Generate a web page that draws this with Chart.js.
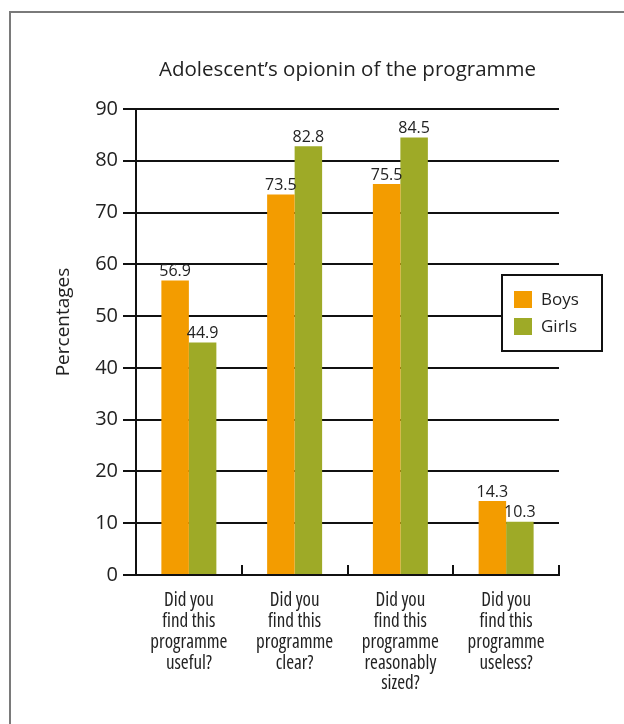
<!DOCTYPE html>
<html>
<head>
<meta charset="utf-8">
<script src="https://cdn.jsdelivr.net/npm/chart.js@4/dist/chart.umd.min.js"></script>
<style>
  html, body { margin: 0; padding: 0; background: #fff; overflow: hidden; }
  #wrap { position: relative; width: 624px; height: 724px; overflow: hidden; }
  #frame { position: absolute; left: 9px; top: 11px; width: 640px; height: 760px;
           border: 2px solid #7a7a7a; box-sizing: border-box; }
  canvas { position: absolute; left: 0; top: 0; }
</style>
</head>
<body>
<div id="wrap">
  <div id="frame"></div>
  <canvas id="c" width="624" height="724"></canvas>
</div>
<script>
// Survey questions (x categories), one line per array entry
const categories = [
  ["Did you", "find this", "programme", "useful?"],
  ["Did you", "find this", "programme", "clear?"],
  ["Did you", "find this", "programme", "reasonably", "sized?"],
  ["Did you", "find this", "programme", "useless?"]
];
// Percentage answering yes
const boys  = [56.9, 73.5, 75.5, 14.3];
const girls = [44.9, 82.8, 84.5, 10.3];
const seriesNames = ["Boys", "Girls"];
// Y axis range
const yMin = 0, yMax = 90, yStep = 10;

const FAMILY = "'Open Sans', sans-serif";
// font shorthand with a width keyword (the face has a condensed cut)
const font = (stretch, px) => stretch + " " + px + "px " + FAMILY;
const INK = "#222";
const LINE = "#111";

const decor = {
  id: "decor",
  afterDatasetsDraw(chart) {
    const ctx = chart.ctx;
    const xs = chart.scales.x;
    const area = chart.chartArea;
    ctx.save();
    // short tick marks at the category boundaries, pointing up from the axis
    ctx.strokeStyle = LINE;
    ctx.lineWidth = 2;
    for (let i = 0; i <= categories.length; i++) {
      const x = Math.round(xs.getPixelForValue(i - 0.5));
      ctx.beginPath();
      ctx.moveTo(x, area.bottom);
      ctx.lineTo(x, area.bottom - 10);
      ctx.stroke();
    }
    // value labels above every bar
    ctx.fillStyle = INK;
    ctx.font = font("normal", 16);
    ctx.textAlign = "center";
    ctx.textBaseline = "bottom";
    chart.data.datasets.forEach((ds, i) => {
      chart.getDatasetMeta(i).data.forEach((bar, j) => {
        ctx.fillText(ds.data[j].toFixed(1), bar.x, bar.y - 1);
      });
    });
    ctx.restore();
  },
  afterDraw(chart) {
    const ctx = chart.ctx;
    const area = chart.chartArea;
    ctx.save();
    ctx.fillStyle = INK;
    // chart title, centred over the plot
    ctx.font = font("normal", 20.5);
    ctx.textAlign = "center";
    ctx.textBaseline = "alphabetic";
    ctx.fillText("Adolescent\u2019s opionin of the programme", (area.left + area.right) / 2, 76);
    // y axis title
    ctx.save();
    ctx.font = font("normal", 19);
    ctx.translate(64, 322);
    ctx.rotate(-Math.PI / 2);
    ctx.textBaseline = "middle";
    ctx.fillText("Percentages", 0, 0);
    ctx.restore();
    // boxed legend
    const bx = 502, by = 275, bw = 100, bh = 76;
    ctx.fillStyle = "#fff";
    ctx.fillRect(bx, by, bw, bh);
    ctx.strokeStyle = LINE;
    ctx.lineWidth = 2;
    ctx.strokeRect(bx, by, bw, bh);
    ctx.font = font("normal", 17);
    ctx.textAlign = "left";
    ctx.textBaseline = "middle";
    chart.data.datasets.forEach((ds, i) => {
      const y = by + 16 + i * 27;
      ctx.fillStyle = ds.backgroundColor;
      ctx.fillRect(bx + 12, y, 18, 17);
      ctx.fillStyle = INK;
      ctx.fillText(ds.label, bx + 39, y + 9);
    });
    ctx.restore();
  }
};

new Chart(document.getElementById("c"), {
  type: "bar",
  data: {
    labels: categories,
    datasets: [
      { label: seriesNames[0], data: boys,  backgroundColor: "#F39C00",
        categoryPercentage: 0.52, barPercentage: 1.0, borderWidth: 0 },
      { label: seriesNames[1], data: girls, backgroundColor: "#9EAA27",
        categoryPercentage: 0.52, barPercentage: 1.0, borderWidth: 0 }
    ]
  },
  options: {
    responsive: false,
    animation: false,
    devicePixelRatio: 1,
    layout: { padding: { left: 80, right: 65, top: 109, bottom: 0 } },
    plugins: {
      legend: { display: false },
      title: { display: false },
      tooltip: { enabled: false }
    },
    scales: {
      x: {
        grid: { display: false },
        border: { display: true, color: LINE, width: 2 },
        ticks: {
          color: INK, font: { family: FAMILY, weight: "condensed", size: 19, lineHeight: 1.1 },
          padding: 7, maxRotation: 0, autoSkip: false
        },
        afterFit(s) { s.height = 149; }
      },
      y: {
        min: yMin, max: yMax,
        grid: { color: LINE, lineWidth: 2, drawTicks: true, tickLength: 13 },
        border: { display: true, color: LINE, width: 2 },
        ticks: { stepSize: yStep, color: INK,
                 font: { family: FAMILY, weight: "normal", size: 20 }, padding: 5 },
        afterFit(s) { s.width = 56; }
      }
    }
  },
  plugins: [decor]
});
</script>
</body>
</html>
